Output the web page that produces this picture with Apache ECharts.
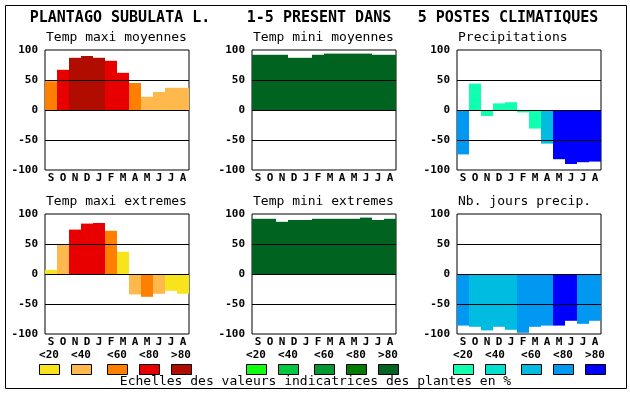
<!DOCTYPE html>
<html>
<head>
<meta charset="utf-8">
<script src="https://cdn.jsdelivr.net/npm/echarts@6/dist/echarts.min.js"></script>
<style>
html,body{margin:0;padding:0;background:#fff;}
#chart{width:630px;height:394px;}
</style>
</head>
<body>
<div id="chart"></div>
<script>
// ---- data ----
const months = ['S','O','N','D','J','F','M','A','M','J','J','A'];
const scaleLabels = ['<20','<40','<60','<80','>80'];
const mainTitleParts = ['PLANTAGO SUBULATA L.', '1-5 PRESENT DANS', '5 POSTES CLIMATIQUES'];
const footerText = 'Echelles des valeurs indicatrices des plantes en %';
const panelTitles = ['Temp maxi moyennes','Temp mini moyennes','Precipitations','Temp maxi extremes','Temp mini extremes','Nb. jours precip.'];

const tmaxMoyValues = [48, 67, 87, 90, 87, 82, 62, 45, 22, 30, 37, 37];
const tmaxMoyClass  = [2, 3, 4, 4, 4, 3, 3, 2, 1, 1, 1, 1];
const tminMoyValues = [92, 92, 92, 87, 87, 92, 94, 94, 94, 94, 92, 92];
const tminMoyClass  = [4, 4, 4, 4, 4, 4, 4, 4, 4, 4, 4, 4];
const precipValues  = [-74, 44, -10, 11, 13, -4, -31, -56, -82, -90, -87, -86];
const precipClass   = [3, 0, 0, 0, 0, 0, 0, 2, 4, 4, 4, 4];
const tmaxExtValues = [7, 50, 74, 84, 85, 72, 37, -34, -38, -33, -28, -33];
const tmaxExtClass  = [0, 1, 3, 3, 3, 2, 0, 1, 2, 1, 0, 0];
const tminExtValues = [92, 92, 87, 90, 90, 92, 92, 92, 92, 94, 90, 92];
const tminExtClass  = [4, 4, 4, 4, 4, 4, 4, 4, 4, 4, 4, 4];
const njourValues   = [-86, -88, -94, -88, -93, -98, -88, -86, -86, -78, -83, -78];
const njourClass    = [3, 2, 2, 2, 2, 3, 3, 3, 4, 4, 3, 3];

// ---- styles ----
const RED   = ['#f8e41c','#ffb84c','#ff8000','#e80000','#b00c00'];
const GREEN = ['#10ff10','#00c840','#009830','#007c00','#006420'];
const BLUE  = ['#10ffb0','#00e0d0','#00bce0','#0098f0','#0000ff'];
const FONT = '"DejaVu Sans Mono", monospace';

const panels = [
  {values: tmaxMoyValues, cls: tmaxMoyClass, pal: RED},
  {values: tminMoyValues, cls: tminMoyClass, pal: GREEN},
  {values: precipValues,  cls: precipClass,  pal: BLUE},
  {values: tmaxExtValues, cls: tmaxExtClass, pal: RED},
  {values: tminExtValues, cls: tminExtClass, pal: GREEN},
  {values: njourValues,   cls: njourClass,   pal: BLUE}
];
const lefts = [45, 252, 457];
const tops = [50, 214];
const W = 144, H = 120;

const grid = [], xAxis = [], yAxis = [], series = [], graphic = [];

graphic.push({type:'rect', shape:{x:5.5, y:5.5, width:621, height:383},
  style:{fill:'none', stroke:'#000', lineWidth:1}, z:100});

const titleCenters = [120, 319, 508];
mainTitleParts.forEach((t,i)=>{
  graphic.push({type:'text', x:titleCenters[i], y:18, style:{text:t, fill:'#000',
    font:'bold 15px ' + FONT, textAlign:'center', textVerticalAlign:'middle'}});
});

panels.forEach((p,i)=>{
  const col = i % 3, row = Math.floor(i / 3);
  const left = lefts[col], top = tops[row];
  grid.push({left:left, top:top, width:W, height:H, show:true, borderColor:'#000', borderWidth:1, backgroundColor:'transparent', containLabel:false});
  xAxis.push({type:'category', gridIndex:i, data:months,
    axisLine:{show:false}, axisTick:{show:false}, splitLine:{show:false},
    axisLabel:{interval:0, margin:3, color:'#000', fontFamily:FONT, fontWeight:'bold', fontSize:11}});
  yAxis.push({type:'value', gridIndex:i, min:-100, max:100, interval:50,
    axisLine:{show:false}, axisTick:{show:false}, splitLine:{show:false},
    axisLabel:{margin:7, color:'#000', fontFamily:FONT, fontWeight:'bold', fontSize:11}});
  series.push({type:'bar', xAxisIndex:i, yAxisIndex:i, barCategoryGap:'0%', barGap:'0%',
    data: p.values.map((v,k)=>({value:v, itemStyle:{color:p.pal[p.cls[k]]}})),
    markLine:{silent:true, symbol:'none', label:{show:false}, animation:false,
      lineStyle:{color:'#000', width:1, type:'solid'},
      data:[{yAxis:50},{yAxis:0},{yAxis:-50}]}
  });
  graphic.push({type:'text', x:left + 1, y:top - 12, style:{text:panelTitles[i], fill:'#000',
    font:'13px ' + FONT, textAlign:'left', textVerticalAlign:'middle'}});
});

// legend scales
const legendStarts = [39, 246, 453];
const legendOffsets = [0, 32, 68, 100, 132];
const pals = [RED, GREEN, BLUE];
legendStarts.forEach((gx,g)=>{
  scaleLabels.forEach((lab,k)=>{
    const x = gx + legendOffsets[k];
    graphic.push({type:'rect', shape:{x:x+0.5, y:364.5, width:20, height:10},
      style:{fill:pals[g][k], stroke:'#000', lineWidth:1}});
    graphic.push({type:'text', x:x+10, y:355, style:{text:lab, fill:'#000',
      font:'bold 11px ' + FONT, textAlign:'center', textVerticalAlign:'middle'}});
  });
});
graphic.push({type:'text', x:315.5, y:382, style:{text:footerText, fill:'#000',
  font:'13px ' + FONT, textAlign:'center', textVerticalAlign:'middle'}});

const chart = echarts.init(document.getElementById('chart'), null, {renderer:'canvas'});
chart.setOption({animation:false, backgroundColor:'#fff', grid, xAxis, yAxis, series, graphic});
</script>
</body>
</html>
